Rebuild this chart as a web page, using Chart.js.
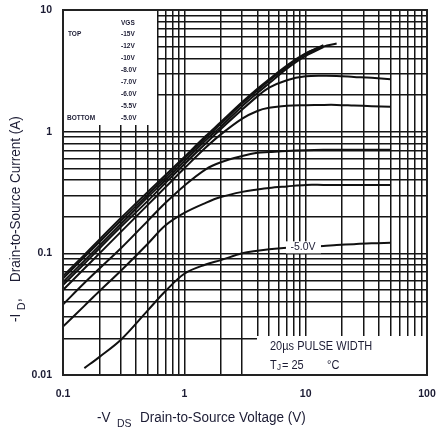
<!DOCTYPE html>
<html lang="en">
<head>
<meta charset="UTF-8">
<title>Typical Output Characteristics</title>
<script src="https://cdn.jsdelivr.net/npm/chart.js"></script>
<style>
  html, body { margin: 0; padding: 0; background: #fff; }
  #wrap { width: 438px; height: 428px; }
</style>
</head>
<body>
<div id="wrap"><canvas id="outChart" width="438" height="428"></canvas></div>
<script>
// -VDS (V) sample points shared by all curves
const vds = [0.1, 0.15, 0.2, 0.3, 0.5, 0.7, 1, 1.5, 2, 3, 4, 5, 7, 10, 14, 18, 25, 35, 50]

// -ID (A) for each -VGS
const id15 = [0.065, 0.097, 0.13, 0.195, 0.32, 0.44, 0.62, 0.92, 1.2, 1.75, 2.25, 2.7, 3.5, 4.4, 5.0, 5.3, null, null, null]
const id12 = [0.062, 0.093, 0.124, 0.185, 0.305, 0.42, 0.6, 0.89, 1.16, 1.7, 2.18, 2.62, 3.42, 4.35, 5.15, null, null, null, null]
const id10 = [0.058, 0.087, 0.116, 0.174, 0.29, 0.4, 0.57, 0.85, 1.1, 1.62, 2.08, 2.5, 3.3, 4.2, 4.95, null, null, null, null]
const id8 = [0.055, 0.082, 0.11, 0.165, 0.27, 0.38, 0.54, 0.8, 1.05, 1.52, 1.95, 2.3, 2.65, 2.85, 2.88, 2.87, 2.82, 2.77, 2.7]
const id7 = [0.05, 0.075, 0.1, 0.15, 0.25, 0.35, 0.5, 0.74, 0.95, 1.28, 1.48, 1.57, 1.63, 1.65, 1.66, 1.66, 1.64, 1.62, 1.6]
const id6 = [0.038, 0.057, 0.075, 0.11, 0.185, 0.26, 0.36, 0.49, 0.56, 0.63, 0.67, 0.68, 0.695, 0.705, 0.71, 0.71, 0.71, 0.71, 0.71]
const id55 = [0.025, 0.037, 0.049, 0.072, 0.12, 0.17, 0.215, 0.26, 0.29, 0.32, 0.335, 0.345, 0.355, 0.365, 0.365, 0.365, 0.365, 0.365, 0.365]
const id5 = [null, 0.0114, 0.0141, 0.0195, 0.034, 0.049, 0.068, 0.081, 0.088, 0.1, 0.105, 0.108, 0.111, 0.113, 0.115, 0.117, 0.119, 0.121, 0.122]

const vgsLabels = ["-15V", "-12V", "-10V", "-8.0V", "-7.0V", "-6.0V", "-5.5V", "-5.0V"]
const seriesIds = [id15, id12, id10, id8, id7, id6, id55, id5]

const xTickLabels = ["0.1", "1", "10", "100"]
const yTickLabels = ["0.01", "0.1", "1", "10"]

const FONT = "'Liberation Sans', Arial, sans-serif"
const INK = "#1c1c34"

// 1..9 x 10^n grid between min and max
function logTicks(min, max) {
  const out = []
  for (let e = Math.round(Math.log10(min)); e < Math.round(Math.log10(max)); e++) {
    for (let m = 1; m < 10; m++) out.push({ value: +(m * Math.pow(10, e)).toPrecision(3) })
  }
  out.push({ value: max })
  return out
}

function stretchedText(ctx, txt, x, y, sy) {
  ctx.save()
  ctx.translate(x, y)
  ctx.scale(1, sy)
  ctx.fillText(txt, 0, 0)
  ctx.restore()
}

// kill the half-label padding chart.js adds at the axis ends
function noEndPad(s) {
  s.paddingLeft = 0
  s.paddingRight = 0
  s.paddingTop = 0
  s.paddingBottom = 0
}

const overlay = {
  id: "overlay",
  beforeDatasetsDraw(chart) {
    const { ctx, chartArea: a } = chart
    ctx.save()
    ctx.fillStyle = "#fff"
    // legend box top-left, note box bottom-right
    ctx.fillRect(a.left, a.top, 94, 115)
    ctx.fillRect(a.right - 170, a.bottom - 39, 170, 39)

    ctx.fillStyle = INK
    ctx.font = "bold 6.5px " + FONT
    ctx.textBaseline = "middle"
    ctx.textAlign = "left"
    ctx.fillText("VGS", a.left + 58, a.top + 13)
    ctx.fillText("TOP", a.left + 5, a.top + 24)
    ctx.fillText("BOTTOM", a.left + 4, a.top + 108)
    vgsLabels.forEach((l, i) => ctx.fillText(l, a.left + 58, a.top + 24 + i * 12))
    ctx.restore()
  },
  afterDatasetsDraw(chart) {
    const { ctx, chartArea: a, scales } = chart
    ctx.save()
    // -5.0V label on its curve
    const lx = scales.x.getPixelForValue(9.5)
    const ly = scales.y.getPixelForValue(0.112)
    ctx.fillStyle = "#fff"
    ctx.fillRect(lx - 17, ly - 6, 35, 12)
    ctx.fillStyle = INK
    ctx.font = "10.5px " + FONT
    ctx.textAlign = "center"
    ctx.textBaseline = "middle"
    ctx.fillText("-5.0V", lx, ly)

    // pulse note
    ctx.textAlign = "left"
    ctx.textBaseline = "alphabetic"
    ctx.font = "11px " + FONT
    stretchedText(ctx, "20\u00b5s PULSE WIDTH", a.right - 157, a.bottom - 25, 1.15)
    stretchedText(ctx, "T", a.right - 157, a.bottom - 6, 1.15)
    ctx.font = "8px " + FONT
    stretchedText(ctx, "J", a.right - 150, a.bottom - 5, 1.15)
    ctx.font = "11px " + FONT
    stretchedText(ctx, "= 25", a.right - 145, a.bottom - 6, 1.15)
    stretchedText(ctx, "\u00b0C", a.right - 100, a.bottom - 6, 1.15)

    // frame
    ctx.strokeStyle = "#222"
    ctx.lineWidth = 2
    ctx.strokeRect(a.left, a.top, a.right - a.left, a.bottom - a.top)
    ctx.restore()
  },
  afterDraw(chart) {
    const { ctx } = chart
    ctx.save()
    ctx.fillStyle = INK
    ctx.textBaseline = "alphabetic"
    ctx.textAlign = "left"
    // x title
    ctx.font = "13.5px " + FONT
    stretchedText(ctx, "-V", 97, 422, 1.1)
    ctx.font = "10.5px " + FONT
    stretchedText(ctx, "DS", 117, 427, 1.1)
    ctx.font = "13.5px " + FONT
    stretchedText(ctx, "Drain-to-Source Voltage (V)", 140, 422, 1.1)

    // y title, rotated
    ctx.translate(20, 322)
    ctx.rotate(-Math.PI / 2)
    ctx.font = "13.5px " + FONT
    stretchedText(ctx, "-I", 0, 0, 1.1)
    ctx.font = "10.5px " + FONT
    stretchedText(ctx, "D", 12, 5, 1.1)
    ctx.font = "13.5px " + FONT
    stretchedText(ctx, ",", 20, 0, 1.1)
    stretchedText(ctx, "Drain-to-Source Current (A)", 40, 0, 1.1)
    ctx.restore()
  },
}

const ctx = document.getElementById("outChart").getContext("2d")
new Chart(ctx, {
  type: "line",
  data: {
    labels: vds,
    datasets: seriesIds.map((ids, i) => ({
      label: vgsLabels[i],
      data: vds.map((v, j) => ({ x: v, y: ids[j] })).filter((p) => p.y !== null),
      borderColor: "#111",
      borderWidth: 2,
      pointRadius: 0,
      fill: false,
      tension: 0.35,
    })),
  },
  options: {
    responsive: false,
    animation: false,
    layout: { padding: { left: 0, right: 11, top: 10, bottom: 0 } },
    plugins: { legend: { display: false }, tooltip: { enabled: false } },
    scales: {
      x: {
        type: "logarithmic",
        min: 0.1,
        max: 100,
        afterBuildTicks: (s) => { s.ticks = logTicks(0.1, 100) },
        afterFit: (s) => { s.height = 53; noEndPad(s) },
        grid: { color: "#151515", lineWidth: 1.5, drawTicks: false },
        border: { display: false },
        ticks: {
          autoSkip: false,
          maxRotation: 0,
          padding: 13,
          color: INK,
          font: { family: FONT, size: 10.5, weight: "bold" },
          callback: (v) => { const t = xTickLabels.find((l) => +l === v); return t || "" },
        },
      },
      y: {
        type: "logarithmic",
        min: 0.01,
        max: 10,
        afterBuildTicks: (s) => { s.ticks = logTicks(0.01, 10) },
        afterFit: (s) => { s.width = 63; noEndPad(s) },
        grid: { color: "#151515", lineWidth: 1.5, drawTicks: false },
        border: { display: false },
        ticks: {
          autoSkip: false,
          padding: 11,
          color: INK,
          font: { family: FONT, size: 10.5, weight: "bold" },
          callback: (v) => { const t = yTickLabels.find((l) => +l === v); return t || "" },
        },
      },
    },
  },
  plugins: [overlay],
})
</script>
</body>
</html>
